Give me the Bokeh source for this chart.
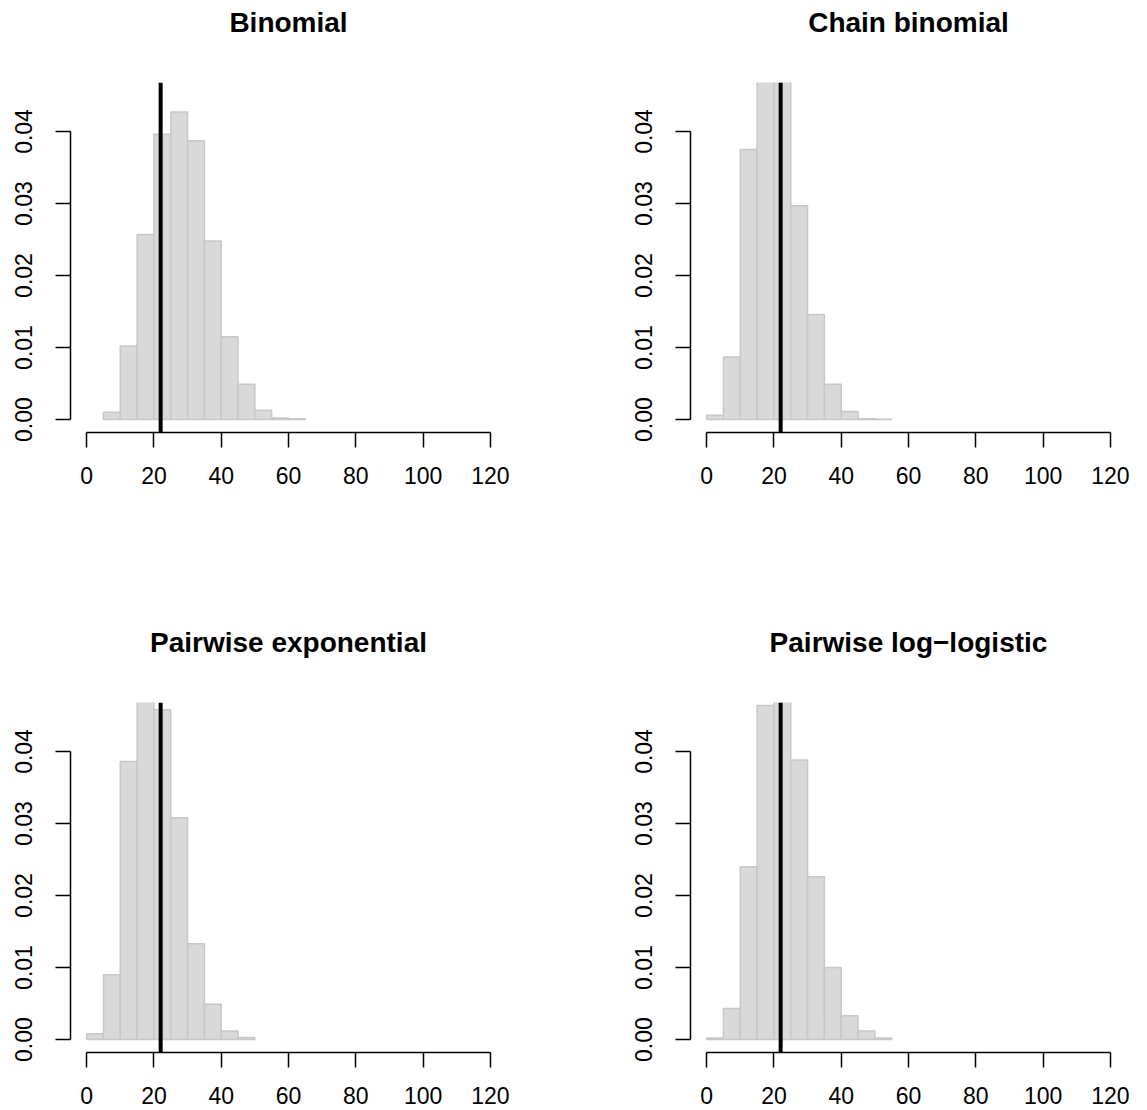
import math
from bokeh.plotting import figure
from bokeh.models import Range1d, FixedTicker, PrintfTickFormatter, Span, Title
from bokeh.layouts import column, row
from bokeh.embed import file_html
from bokeh.resources import INLINE

# ---- data (density per bin of width 5) ----
bin_width = 5
observed = 22

titles = ["Binomial", "Chain binomial", "Pairwise exponential", "Pairwise log\u2212logistic"]

binomial_start = 5
binomial_density = [0.0010, 0.0102, 0.0257, 0.0396, 0.0427, 0.0387, 0.0248,
                    0.0115, 0.0049, 0.0013, 0.0002, 0.0001]

chain_start = 0
chain_density = [0.0006, 0.0087, 0.0375, 0.0520, 0.0510, 0.0297, 0.0146,
                 0.0049, 0.0011, 0.0001, 0.00005]

pexp_start = 0
pexp_density = [0.0008, 0.0090, 0.0386, 0.0550, 0.0458, 0.0308, 0.0133,
                0.0049, 0.0012, 0.0003]

ploglog_start = 0
ploglog_density = [0.0002, 0.0043, 0.0240, 0.0464, 0.0491, 0.0388, 0.0226,
                   0.0100, 0.0033, 0.0012, 0.0002]

x_ticks = [0, 20, 40, 60, 80, 100, 120]
y_ticks = [0.0, 0.01, 0.02, 0.03, 0.04]

FONT = "Liberation Sans"
FRAME_W, FRAME_H = 436, 350


def make_panel(title, start, dens, right_border, bottom_border):
    p = figure(frame_width=FRAME_W, frame_height=FRAME_H,
               x_range=Range1d(-4.8, 124.8), y_range=Range1d(-0.0018, 0.0468),
               output_backend="svg", toolbar_location=None,
               min_border_left=70, min_border_right=right_border,
               min_border_top=82, min_border_bottom=bottom_border,
               background_fill_color="white", border_fill_color="white")

    # real title (outermost) plus a thin spacer between it and the frame
    p.title.text = title
    p.title.align = "center"
    p.title.text_font = FONT
    p.title.text_font_size = "28px"
    p.title.text_font_style = "bold"
    p.title.text_color = "black"
    p.title.standoff = 6
    p.add_layout(Title(text=" ", text_font_size="1px", standoff=39), "above")

    lefts = [start + i * bin_width for i in range(len(dens))]
    rights = [l + bin_width for l in lefts]
    p.quad(left=lefts, right=rights, bottom=0, top=dens,
           fill_color="#d9d9d9", line_color="#c8c8c8", line_width=1.5)

    p.add_layout(Span(location=observed, dimension="height",
                      line_color="black", line_width=4))

    p.grid.visible = False
    p.outline_line_color = None

    for ax in (p.xaxis, p.yaxis):
        ax.axis_line_width = 1.5
        ax.axis_line_color = "black"
        ax.major_tick_line_width = 1.5
        ax.major_tick_line_color = "black"
        ax.major_tick_out = 15
        ax.major_tick_in = 0
        ax.minor_tick_line_color = None
        ax.major_label_text_font = FONT
        ax.major_label_text_font_size = "23px"
        ax.major_label_text_color = "black"

    p.xaxis.ticker = FixedTicker(ticks=x_ticks)
    p.xaxis.bounds = (x_ticks[0], x_ticks[-1])
    p.xaxis.major_label_standoff = 19

    p.yaxis.ticker = FixedTicker(ticks=y_ticks)
    p.yaxis.bounds = (y_ticks[0], y_ticks[-1])
    p.yaxis.formatter = PrintfTickFormatter(format="%.2f")
    p.yaxis.major_label_orientation = "vertical"
    p.yaxis.major_label_standoff = 23
    return p


p1 = make_panel(titles[0], binomial_start, binomial_density, 114, 188)
p2 = make_panel(titles[1], chain_start, chain_density, 21, 188)
p3 = make_panel(titles[2], pexp_start, pexp_density, 114, 58)
p4 = make_panel(titles[3], ploglog_start, ploglog_density, 21, 58)

layout = column(row(p1, p2, spacing=0), row(p3, p4, spacing=0), spacing=0)

with open("out.html", "w") as f:
    f.write(file_html(layout, INLINE, title="Histograms"))
